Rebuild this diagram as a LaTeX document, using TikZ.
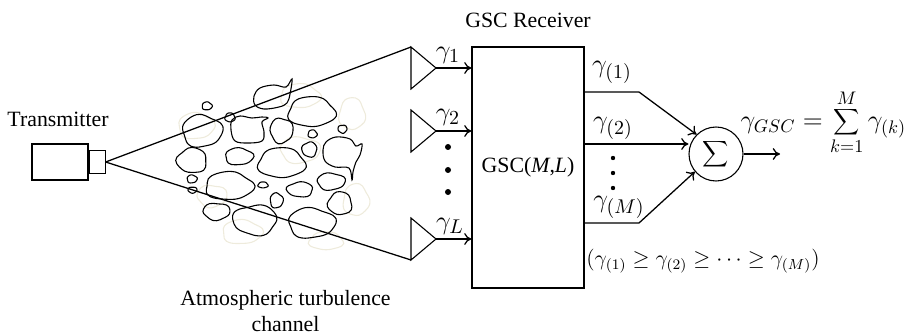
\documentclass[tikz,border=0pt]{standalone}
\usepackage[no-math]{fontspec}
\setmainfont{Liberation Serif}
\usetikzlibrary{positioning,arrows.meta}
\definecolor{haze}{RGB}{238,235,220}
% wobbly closed outline: [style] centre x, centre y, half width, half height, phase
\newcommand{\blob}[6][blob]{%
  \draw[#1] plot[smooth cycle, domain=0:345, samples=24]
    ({#2+#4*(1+0.06*sin(3*\x+#6)+0.04*sin(5*\x+2*#6))*cos(\x)},
     {#3+#5*(1+0.06*sin(3*\x+#6)+0.04*sin(5*\x+2*#6))*sin(\x)});}

\begin{document}
\begin{tikzpicture}[x=0.55pt, y=-0.55pt, line width=0.7pt,
  font=\fontsize{12}{14}\selectfont,
  >={To[length=4pt,width=6.5pt]},
  blob/.style={line width=0.6pt},
  faint/.style={draw=haze, line width=0.6pt},
  box/.style={draw, line width=0.6pt, inner sep=0pt},
  glab/.style={inner sep=0pt, font=\fontsize{15}{18}\selectfont},
  dot/.style={circle, fill, inner sep=0pt, minimum size=3.3pt},
  sdot/.style={circle, fill, inner sep=0pt, minimum size=2.4pt}]
  \useasboundingbox (0,0) rectangle (917,336);

  % transmitter
  \node[box, minimum width=30.8pt, minimum height=19.8pt] (tx) at (60,162) {};
  \node[box, minimum width=8.8pt, minimum height=12.65pt, right=0pt of tx] (lens) {};
  \node (txlab) at (58,119) {Transmitter};

  % turbulence cells (faint ones first)
  \blob[faint]{300}{96}{20}{12}{40}
  \blob[faint]{352}{114}{13}{16}{10}
  \blob[faint]{196}{126}{18}{13}{80}
  \blob[faint]{300}{150}{20}{13}{120}
  \blob[faint]{356}{200}{13}{16}{30}
  \blob[faint]{242}{232}{20}{12}{70}
  \blob[faint]{212}{196}{15}{11}{150}
  \blob[faint]{326}{241}{17}{9}{0}
  \draw[blob] plot[smooth cycle, tension=0.6] coordinates {(254,96) (260,88) (274,85)
    (286,87) (292,79) (290,94) (287,103) (279,107) (264,109) (255,105)};
  \blob{311.5}{112}{23.5}{15}{20}
  \blob{207}{106}{5}{4}{60}
  \blob{202}{131}{20}{16}{100}
  \blob{230}{117.5}{5}{4.5}{0}
  \draw[blob] plot[smooth cycle, tension=0.6] coordinates {(232,120) (240,116) (252,118)
    (262,117) (268,118) (262,122) (264,132) (262,141) (248,143) (235,141) (231,130)};
  \blob{281.5}{130.5}{11.5}{12.5}{140}
  \blob{312.5}{134}{4.5}{4}{30}
  \blob{342.5}{129}{4.5}{4}{200}
  \blob{309.5}{149.5}{7.5}{7.5}{250}
  \draw[blob] plot[smooth cycle, tension=0.6] coordinates {(326,142) (336,137) (350,139)
    (356,146) (362,144) (360,155) (356,162) (353,172) (352,180) (349,168) (335,167)
    (325,161) (323,150)};
  \blob{192}{160.5}{15}{12.5}{300}
  \blob{239}{156.5}{14}{8.5}{80}
  \blob{281.5}{163}{23.5}{15}{10}
  \blob{192}{179}{5}{4}{90}
  \blob{192.5}{190}{4.5}{3}{180}
  \blob{229}{186}{24}{14}{50}
  \blob{263}{185}{5}{3}{0}
  \blob{300}{189.5}{13}{7.5}{270}
  \blob{331}{181.5}{14}{8.5}{120}
  \blob{276.5}{200.5}{6.5}{7.5}{90}
  \blob{340}{203.5}{12}{11.5}{330}
  \blob{216.5}{211.5}{13.5}{8.5}{160}
  \blob{255}{220}{22}{15}{230}
  \blob{311.5}{223}{23.5}{15}{100}

  % antennas: top corner t, apex a, bottom corner b
  \foreach \n/\y in {1/68, 2/131, L/239} {
    \draw[line width=0.6pt] (411,\y-21) coordinate (t\n) -- (436,\y) coordinate (a\n)
      -- (411,\y+21) coordinate (b\n) -- cycle;
  }

  % beam
  \draw (lens.east) -- (t1);
  \draw (lens.east) -- (bL);

  % receiver
  \node[box, minimum width=61.6pt, minimum height=132.55pt] (gsc) at (528,167.5)
    {GSC(\textit{M},\textit{L})};
  \node[above=6.5pt of gsc] (rxlab) {GSC Receiver};
  \foreach \n in {1,2,L}
    \draw[->] (a\n) -- (a\n -| gsc.west);
  \node[glab] (g1) at (448,55) {$\gamma_1$};
  \node[glab] (g2) at (448,117) {$\gamma_2$};
  \node[glab] (gL) at (450,226) {$\gamma_L$};
  \foreach \y [count=\i] in {147,170,192}
    \node[dot] (din\i) at (448,\y) {};

  % combiner
  \node[circle, draw, line width=0.6pt, minimum size=29.7pt, inner sep=0pt] (sum)
    at (716,154) {$\displaystyle\sum$};
  \coordinate (o1) at (584,92);  \coordinate (k1) at (639,92);
  \coordinate (o2) at (584,144);
  \coordinate (oM) at (584,223); \coordinate (kM) at (639,223);
  \coordinate (out) at (780,154);
  \draw[->] (o1) -- (k1) -- (sum.135);
  \draw[->] (o2) -- (o2 -| sum.west);
  \draw[->] (oM) -- (kM) -- (sum.220);
  \draw[->] (sum.east) -- (out);
  \node[glab] (s1) at (612,72) {$\gamma_{(1)}$};
  \node[glab] (s2) at (613,128) {$\gamma_{(2)}$};
  \node[glab] (sM) at (619,207) {$\gamma_{(M)}$};
  \foreach \y [count=\i] in {158,173,188}
    \node[sdot] (dout\i) at (613,\y) {};

  \node[anchor=west, inner sep=0pt, font=\fontsize{14}{17}\selectfont] (eq) at (740,122)
    {$\gamma_{GSC}=\displaystyle\sum_{k=1}^{M}\gamma_{(k)}$};
  \node (order) at (703,261) {$(\gamma_{(1)}\geq\gamma_{(2)}\geq\cdots\geq\gamma_{(M)})$};
  \node[align=center] (chlab) at (285.5,311) {Atmospheric turbulence\\channel};
\end{tikzpicture}
\end{document}
